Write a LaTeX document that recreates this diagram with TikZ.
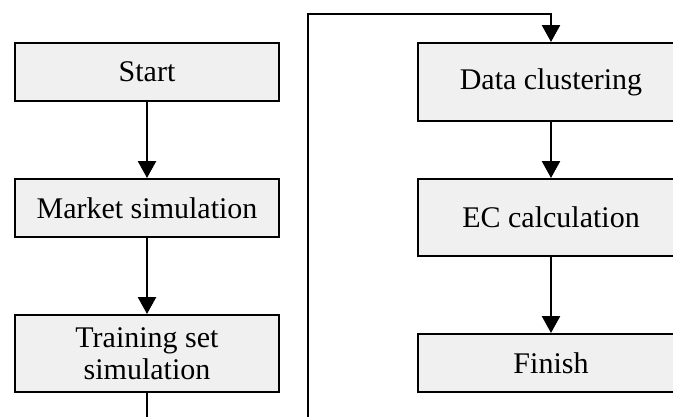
\documentclass[tikz,border=0pt]{standalone}
\usepackage{fontspec}
\setmainfont{Liberation Serif}
\usetikzlibrary{arrows.meta}
\definecolor{boxfill}{HTML}{F0F0F0}
\tikzset{
  stepbox/.style={draw=black, line width=2pt, fill=boxfill, minimum width=264pt, inner sep=0pt, align=center, font=\fontsize{30}{32}\selectfont},
  flow/.style={line width=2.6pt, -{Triangle[width=18pt,length=17pt]}},
}
\begin{document}
\begin{tikzpicture}[x=1pt,y=-1pt]
\useasboundingbox (0,0) rectangle (673,416);
\clip (0,0) rectangle (673,416);
\node[stepbox, minimum height=58pt] (start) at (147,72) {Start};
\node[stepbox, minimum height=58pt] (market) at (147,208) {Market simulation};
\node[stepbox, minimum height=77pt] (train) at (147,353.5) {Training set\\simulation};
\node[stepbox, minimum width=266pt, minimum height=78pt] (data) at (551,82) {Data clustering};
\node[stepbox, minimum width=266pt, minimum height=77pt] (ec) at (551,217.5) {EC calculation};
\node[stepbox, minimum width=266pt, minimum height=58pt] (finish) at (551,363) {Finish};
\coordinate (b1) at (147,440);
\coordinate (b2) at (308,440);
\coordinate (t1) at (308,14);
\coordinate (t2) at (551,14);
\draw[flow] (start) -- (market);
\draw[flow] (market) -- (train);
\draw[flow] (train.south) -- (b1) -- (b2) -- (t1) -- (t2) -- (data.north);
\draw[flow] (data) -- (ec);
\draw[flow] (ec) -- (finish);
\end{tikzpicture}
\end{document}
